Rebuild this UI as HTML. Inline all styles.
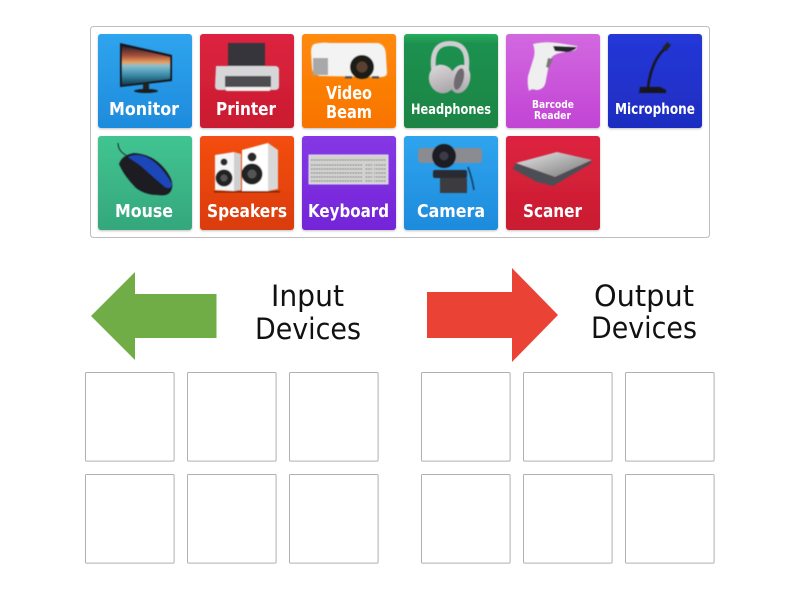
<!DOCTYPE html>
<html><head><meta charset="utf-8"><style>
html,body{margin:0;padding:0;background:#fff;width:800px;height:600px;overflow:hidden}
svg{display:block}
.b{font-family:"DejaVu Sans",sans-serif;font-weight:bold;fill:#fff}
.t{font-family:"DejaVu Sans",sans-serif;fill:#111}
</style></head><body>
<svg width="800" height="600" viewBox="0 0 800 600" xmlns="http://www.w3.org/2000/svg">
<defs>
<filter id="soft" x="-5%" y="-5%" width="110%" height="110%"><feGaussianBlur stdDeviation="0.45"/></filter>
<filter id="sh" x="-5%" y="-5%" width="110%" height="110%"><feDropShadow dx="0" dy="1" stdDeviation="1" flood-color="#000" flood-opacity=".25"/></filter>
<linearGradient id="blue" x1="0" y1="0" x2="0" y2="1"><stop offset="0" stop-color="#2fa4ee"/><stop offset="1" stop-color="#1e8bdc"/></linearGradient>
<linearGradient id="red" x1="0" y1="0" x2="0" y2="1"><stop offset="0" stop-color="#dd2440"/><stop offset="1" stop-color="#c91c30"/></linearGradient>
<linearGradient id="org" x1="0" y1="0" x2="0" y2="1"><stop offset="0" stop-color="#ff8a0c"/><stop offset="1" stop-color="#f87400"/></linearGradient>
<linearGradient id="grn" x1="0" y1="0" x2="0" y2="1"><stop offset="0" stop-color="#25b05c"/><stop offset=".1" stop-color="#1f9150"/><stop offset="1" stop-color="#1a8444"/></linearGradient>
<linearGradient id="pur" x1="0" y1="0" x2="0" y2="1"><stop offset="0" stop-color="#d268e0"/><stop offset="1" stop-color="#c244d4"/></linearGradient>
<linearGradient id="nav" x1="0" y1="0" x2="0" y2="1"><stop offset="0" stop-color="#2538d8"/><stop offset="1" stop-color="#1e2cc0"/></linearGradient>
<linearGradient id="mnt" x1="0" y1="0" x2="0" y2="1"><stop offset="0" stop-color="#42c492"/><stop offset="1" stop-color="#34a77c"/></linearGradient>
<linearGradient id="spk" x1="0" y1="0" x2="0" y2="1"><stop offset="0" stop-color="#f44e12"/><stop offset="1" stop-color="#da3c08"/></linearGradient>
<linearGradient id="vio" x1="0" y1="0" x2="0" y2="1"><stop offset="0" stop-color="#8538e4"/><stop offset="1" stop-color="#7424d8"/></linearGradient>
<linearGradient id="scr" x1="0" y1="0" x2="0" y2="1"><stop offset="0" stop-color="#2b2030"/><stop offset=".25" stop-color="#a8503a"/><stop offset=".42" stop-color="#e8a060"/><stop offset=".5" stop-color="#8ac0d0"/><stop offset=".75" stop-color="#3a8aa8"/><stop offset="1" stop-color="#123a4c"/></linearGradient>
<linearGradient id="scan" x1="0" y1="0" x2="1" y2="1"><stop offset="0" stop-color="#e6e6e6"/><stop offset="1" stop-color="#777"/></linearGradient>
<linearGradient id="hp" x1="0" y1="0" x2="0" y2="1"><stop offset="0" stop-color="#d8d4d8"/><stop offset="1" stop-color="#aaa5a9"/></linearGradient>
</defs>

<rect x="90.5" y="26.5" width="619" height="211" rx="3" fill="#fff" stroke="#bdbdbd"/>

<!-- tiles -->
<g filter="url(#sh)">
<rect x="98" y="34" width="94" height="94" rx="3" fill="url(#blue)"/>
<rect x="200" y="34" width="94" height="94" rx="3" fill="url(#red)"/>
<rect x="302" y="34" width="94" height="94" rx="3" fill="url(#org)"/>
<rect x="404" y="34" width="94" height="94" rx="3" fill="url(#grn)"/>
<rect x="506" y="34" width="94" height="94" rx="3" fill="url(#pur)"/>
<rect x="608" y="34" width="94" height="94" rx="3" fill="url(#nav)"/>
<rect x="98" y="136" width="94" height="94" rx="3" fill="url(#mnt)"/>
<rect x="200" y="136" width="94" height="94" rx="3" fill="url(#spk)"/>
<rect x="302" y="136" width="94" height="94" rx="3" fill="url(#vio)"/>
<rect x="404" y="136" width="94" height="94" rx="3" fill="url(#blue)"/>
<rect x="506" y="136" width="94" height="94" rx="3" fill="url(#red)"/>
</g>

<g filter="url(#soft)">
<!-- monitor -->
<polygon points="120,43 172,55 172,81 120,87" fill="#14141a"/>
<polygon points="122,46 170,57 170,79 122,85" fill="url(#scr)"/>
<rect x="143" y="83" width="6" height="7" fill="#222"/>
<ellipse cx="146" cy="91" rx="12" ry="2" fill="#1a1a1f"/>

<!-- printer -->
<rect x="228" y="43" width="37" height="24" fill="#36363a"/>
<path d="M216 66 H275 Q279 66 279 70 L279 86 Q279 90 275 90 H219 Q215 90 215 86 Z" fill="#d6d6d8"/>
<rect x="225" y="76" width="46" height="11" fill="#4e4e51"/>
<rect x="226" y="87" width="44" height="4" fill="#f0f0f0"/>

<!-- projector -->
<path d="M314 44 Q321 42 330 43 L378 43 Q386 45 386 56 L387 73 Q387 77 380 77 L320 76 Q312 74 312 68 L311 52 Q311 46 314 44 Z" fill="#f3f3f3"/>
<rect x="313" y="58" width="15" height="17" fill="#a8a8aa"/>
<circle cx="362" cy="67" r="12" fill="#1d1a18"/>
<circle cx="362" cy="67" r="5.5" fill="#5a4030"/>
<rect x="345" y="76" width="7" height="2.5" fill="#555"/><rect x="372" y="76" width="7" height="2.5" fill="#555"/>

<!-- headphones -->
<path d="M434 72 C431 52 437 43.5 450 43.5 C463 43.5 469 52 466 72" fill="none" stroke="#d0cdd0" stroke-width="5"/>
<ellipse cx="442" cy="79" rx="13" ry="14.5" transform="rotate(-20 442 79)" fill="url(#hp)"/>
<ellipse cx="460" cy="79" rx="10" ry="14.5" transform="rotate(15 460 79)" fill="url(#hp)"/>
<ellipse cx="459" cy="79" rx="4.5" ry="11" transform="rotate(15 459 79)" fill="#6e6b70"/>

<!-- barcode -->
<path d="M533 44 Q545 41 558 43 L577 46 Q578 50 572 51 L560 53 Q550 55 549 64 L546 80 Q545 90 536 90 Q532 88 529 91 Q527 84 528 76 L533 60 Q536 52 533 44 Z" fill="#f0eff0"/>
<path d="M553 46 L577 47 Q575 51 566 52 L555 51 Z" fill="#23252a"/>
<path d="M548 58 L553 59 L549 68 L546 67 Z" fill="#777"/>

<!-- microphone -->
<path d="M667 47 Q652 58 648 87" fill="none" stroke="#15161d" stroke-width="2.5"/>
<rect x="664" y="43" width="5" height="8" transform="rotate(40 667 47)" fill="#20222a"/>
<path d="M639 93 L640 87 H660 L666 90 V93 Z" fill="#16171f"/>

<!-- mouse -->
<path d="M118 143 Q118 150 124 154 Q130 158 129 158" fill="none" stroke="#222" stroke-width="1"/>
<path d="M119 164 Q122 155 134 153 Q152 154 164 168 Q174 180 172 188 Q170 197 158 195 Q145 195 136 188 Q124 176 119 164 Z" fill="#1d1f24"/>
<path d="M128 157 Q136 153 146 157 Q160 163 172 184 Q171 190 165 187 Q153 177 141 166 Z" fill="#1f47b8"/>

<!-- speakers -->
<polygon points="215,155 234,152 234,191 215,190" fill="#f6f6f6"/>
<polygon points="234,152 241,154 241,190 234,191" fill="#cfcfcf"/>
<circle cx="224" cy="162" r="3.5" fill="#2a2a2a"/>
<circle cx="224" cy="178" r="8.5" fill="#222"/><circle cx="224" cy="178" r="3.5" fill="#555"/>
<polygon points="242,150 268,143 268,191 242,191" fill="#fff"/>
<polygon points="268,143 278,150 278,189 268,191" fill="#d8d8d8"/>
<circle cx="252" cy="157" r="4.5" fill="#2a2a2a"/>
<circle cx="252" cy="174" r="10.5" fill="#222"/><circle cx="252" cy="174" r="4.5" fill="#555"/>
<rect x="214" y="191" width="66" height="1.5" fill="#7c2505"/>

<!-- keyboard -->
<rect x="309" y="155" width="79" height="29" fill="#d2d2d0" stroke="#efefef" stroke-width=".8"/>
<g fill="none" stroke="#666664" stroke-width="1" stroke-dasharray="1.6 1">
<line x1="311" y1="160" x2="386" y2="160"/><line x1="311" y1="165" x2="386" y2="165"/><line x1="311" y1="169" x2="386" y2="169"/><line x1="311" y1="173" x2="386" y2="173"/><line x1="311" y1="177" x2="386" y2="177"/><line x1="311" y1="181" x2="386" y2="181"/>
</g>
<rect x="363" y="162" width="2" height="21" fill="#d2d2d0"/><rect x="372" y="162" width="2" height="21" fill="#d2d2d0"/>

<!-- camera -->
<rect x="418" y="148" width="64" height="15" rx="3" fill="#8b8b92"/>
<circle cx="444" cy="156" r="12" fill="#1c1c22"/><circle cx="444" cy="156" r="4.5" fill="#3a3a48"/>
<rect x="433" y="170" width="34" height="8" rx="2" fill="#2b2b30"/>
<rect x="440" y="178" width="27" height="15" fill="#3a3b40"/>
<path d="M468 167 Q472 178 474 190" fill="none" stroke="#1f3e5a" stroke-width="1.6"/>

<!-- scanner -->
<polygon points="516,163 557,152 592,160 555,177" fill="url(#scan)"/>
<polygon points="513,169 516,163 555,177 592,160 590,164 553,186 537,182" fill="#4b4f55"/>
</g>

<!-- labels -->
<text class="b" font-size="18" x="109" y="115" textLength="70" lengthAdjust="spacingAndGlyphs">Monitor</text>
<text class="b" font-size="18" x="216" y="115" textLength="60" lengthAdjust="spacingAndGlyphs">Printer</text>
<text class="b" font-size="18" x="326" y="99" textLength="46" lengthAdjust="spacingAndGlyphs">Video</text>
<text class="b" font-size="18" x="326" y="118" textLength="46" lengthAdjust="spacingAndGlyphs">Beam</text>
<text class="b" font-size="14" x="411" y="114" textLength="80" lengthAdjust="spacingAndGlyphs">Headphones</text>
<text class="b" font-size="11" x="532" y="108" textLength="42" lengthAdjust="spacingAndGlyphs">Barcode</text>
<text class="b" font-size="11" x="534" y="119" textLength="37" lengthAdjust="spacingAndGlyphs">Reader</text>
<text class="b" font-size="15" x="615" y="114" textLength="80" lengthAdjust="spacingAndGlyphs">Microphone</text>
<text class="b" font-size="18" x="115" y="217" textLength="58" lengthAdjust="spacingAndGlyphs">Mouse</text>
<text class="b" font-size="18" x="207" y="217" textLength="80" lengthAdjust="spacingAndGlyphs">Speakers</text>
<text class="b" font-size="18" x="308" y="217" textLength="81" lengthAdjust="spacingAndGlyphs">Keyboard</text>
<text class="b" font-size="18" x="417" y="217" textLength="68" lengthAdjust="spacingAndGlyphs">Camera</text>
<text class="b" font-size="18" x="523" y="217" textLength="59" lengthAdjust="spacingAndGlyphs">Scaner</text>

<!-- arrows -->
<polygon points="91,316 135,272 135,294 216.5,294 216.5,338 135,338 135,360" fill="#70ad47"/>
<polygon points="427,292 512,292 512,268 558,315 512,362 512,338 427,338" fill="#ea4335"/>

<text class="t" font-size="29" x="271" y="306" textLength="73" lengthAdjust="spacingAndGlyphs">Input</text>
<text class="t" font-size="29" x="255" y="339" textLength="106" lengthAdjust="spacingAndGlyphs">Devices</text>
<text class="t" font-size="29" x="594" y="306" textLength="100" lengthAdjust="spacingAndGlyphs">Output</text>
<text class="t" font-size="29" x="591" y="338" textLength="106" lengthAdjust="spacingAndGlyphs">Devices</text>

<!-- drop boxes -->
<g fill="#fff" stroke="#b0b0b0">
<rect x="85.5" y="372.5" width="88.6" height="88.6" rx="1"/><rect x="187.5" y="372.5" width="88.6" height="88.6" rx="1"/><rect x="289.5" y="372.5" width="88.6" height="88.6" rx="1"/>
<rect x="421.5" y="372.5" width="88.6" height="88.6" rx="1"/><rect x="523.5" y="372.5" width="88.6" height="88.6" rx="1"/><rect x="625.5" y="372.5" width="88.6" height="88.6" rx="1"/>
<rect x="85.5" y="474.5" width="88.6" height="88.6" rx="1"/><rect x="187.5" y="474.5" width="88.6" height="88.6" rx="1"/><rect x="289.5" y="474.5" width="88.6" height="88.6" rx="1"/>
<rect x="421.5" y="474.5" width="88.6" height="88.6" rx="1"/><rect x="523.5" y="474.5" width="88.6" height="88.6" rx="1"/><rect x="625.5" y="474.5" width="88.6" height="88.6" rx="1"/>
</g>
</svg>
</body></html>
